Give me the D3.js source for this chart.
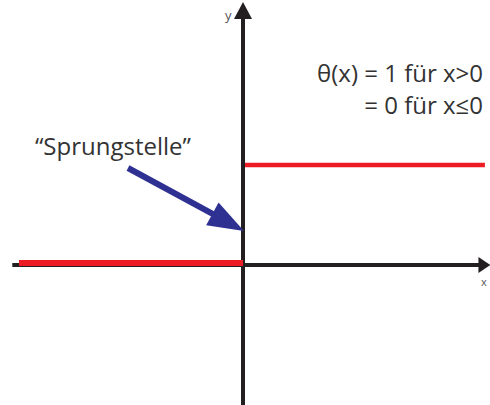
<!DOCTYPE html>
<html>
<head>
<meta charset="utf-8">
<script src="https://cdn.jsdelivr.net/npm/d3@7"></script>
<style>
  html, body { margin: 0; padding: 0; background: #fff; }
  svg { display: block; }
  text { font-family: "Open Sans", "Noto Sans", sans-serif; fill: #333; }
</style>
</head>
<body>
<svg id="chart" width="490" height="405"></svg>
<script>
// Heaviside step function θ(x): value 0 left of the origin, 1 to the right
const stepX0 = [-1, 0];
const stepX1 = [0, 1.08];
const stepY = [0, 1];

// Axis extents in data units
const xAxisRange = [-1.03, 1.06];
const yAxisRange = [-1.43, 2.5];

// Annotation texts
const formulaLines = ["θ(x) = 1 für x>0", "= 0 für x≤0"];
const jumpLabel = "“Sprungstelle”";
const axisNames = ["x", "y"];

const svg = d3.select("#chart");

const x = d3.scaleLinear().domain([-1, 1]).range([19, 467]);
const y = d3.scaleLinear().domain([0, 1]).range([265, 165]);

// axes
const axisColor = "#231f20";
svg.append("line")
  .attr("x1", x(xAxisRange[0])).attr("x2", x(xAxisRange[1]))
  .attr("y1", y(0)).attr("y2", y(0))
  .attr("stroke", axisColor).attr("stroke-width", 4);
svg.append("line")
  .attr("x1", x(0)).attr("x2", x(0))
  .attr("y1", y(yAxisRange[0])).attr("y2", y(yAxisRange[1]))
  .attr("stroke", axisColor).attr("stroke-width", 4);

// arrowheads on the axes
const xa = x(xAxisRange[1]), ya = y(yAxisRange[1]);
svg.append("path")
  .attr("d", `M${xa - 2},${y(0) - 8} L${xa + 10},${y(0)} L${xa - 2},${y(0) + 8} Z`)
  .attr("fill", axisColor);
svg.append("path")
  .attr("d", `M${x(0) - 9},${ya + 4} L${x(0)},${ya - 13} L${x(0) + 9},${ya + 4} Z`)
  .attr("fill", axisColor);

// axis names
svg.append("text").attr("x", 481).attr("y", y(0) + 21)
  .attr("font-size", 11).style("fill", "#555")
  .text(axisNames[0]);
svg.append("text").attr("x", x(0) - 18).attr("y", 20)
  .attr("font-size", 13).style("fill", "#555")
  .text(axisNames[1]);

// step segments
svg.selectAll("line.step")
  .data(stepY.map((v, i) => ({ x0: stepX0[i], x1: stepX1[i], v })))
  .join("line")
  .attr("class", "step")
  .attr("x1", d => x(d.x0) + (d.x0 === 0 ? 2 : 0))
  .attr("x2", d => x(d.x1))
  .attr("y1", d => y(d.v) - (d.v === 0 ? 2 : 0))
  .attr("y2", d => y(d.v) - (d.v === 0 ? 2 : 0))
  .attr("stroke", "#ed1c24").attr("stroke-width", d => d.v === 0 ? 6 : 4.5);

// pointer to the discontinuity
const blue = "#2e3192";
const start = [128, 168], tip = [x(0) + 1, 231];
const ang = Math.atan2(tip[1] - start[1], tip[0] - start[0]);
const headLen = 36, headHalf = 13;
const bx = tip[0] - headLen * Math.cos(ang), by = tip[1] - headLen * Math.sin(ang);
svg.append("line")
  .attr("x1", start[0]).attr("y1", start[1])
  .attr("x2", bx + 4 * Math.cos(ang)).attr("y2", by + 4 * Math.sin(ang))
  .attr("stroke", blue).attr("stroke-width", 6);
svg.append("path")
  .attr("d", `M${tip[0]},${tip[1]}
    L${bx + headHalf * Math.sin(ang)},${by - headHalf * Math.cos(ang)}
    L${bx - headHalf * Math.sin(ang)},${by + headHalf * Math.cos(ang)} Z`)
  .attr("fill", blue);

// labels
svg.append("text").attr("x", 35).attr("y", 155)
  .attr("font-size", 24).text(jumpLabel);

svg.selectAll("text.formula")
  .data(formulaLines)
  .join("text")
  .attr("class", "formula")
  .attr("x", 483).attr("y", (d, i) => 82 + i * 32)
  .attr("text-anchor", "end")
  .attr("font-size", 24)
  .text(d => d);
</script>
</body>
</html>
